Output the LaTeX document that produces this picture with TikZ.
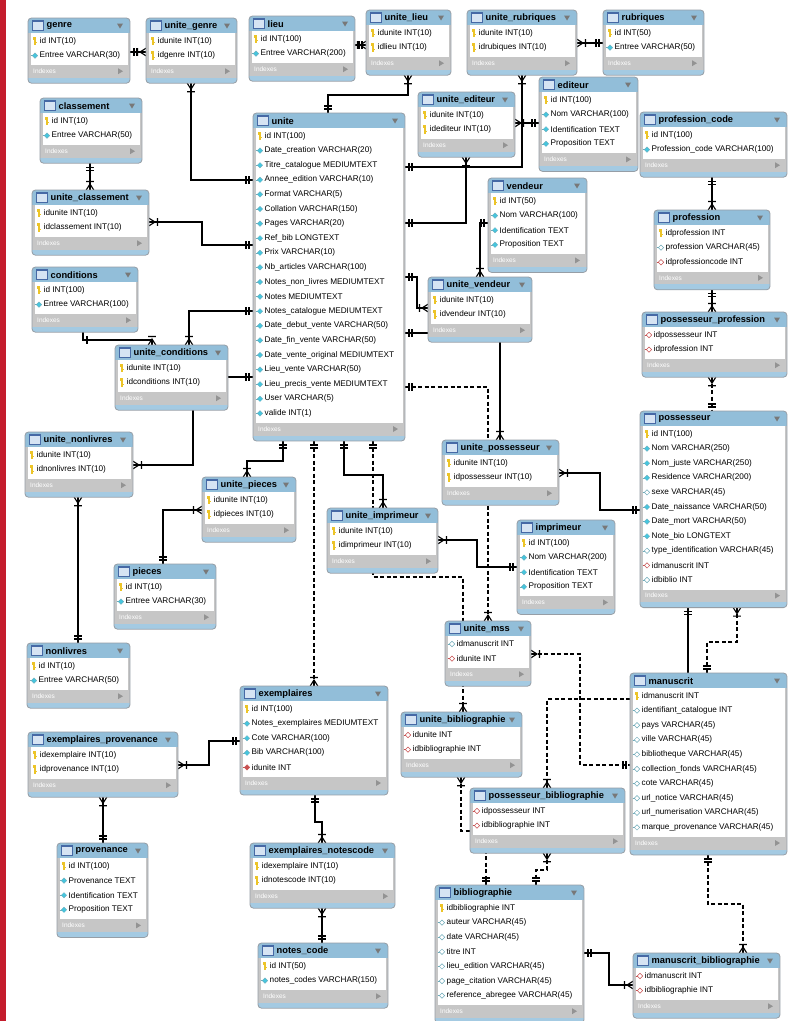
\documentclass[tikz,border=0pt]{standalone}
\usepackage{fontspec}
\setmainfont{Liberation Sans}
\pgfdeclarelayer{bg}
\pgfsetlayers{bg,main}
\definecolor{hdr}{RGB}{146,190,217}
\definecolor{strip}{RGB}{164,202,226}
\definecolor{bodygray}{RGB}{198,198,198}
\definecolor{tborder}{RGB}{150,158,166}
\definecolor{iconfill}{RGB}{214,228,243}
\definecolor{iconedge}{RGB}{70,105,165}
\definecolor{tri}{RGB}{120,120,120}
\definecolor{keyc}{RGB}{236,196,40}
\definecolor{dcyan}{RGB}{70,198,222}
\definecolor{dteal}{RGB}{110,170,185}
\definecolor{dred}{RGB}{200,80,80}
\definecolor{redbar}{RGB}{196,28,44}
\tikzset{
  tablenode/.style={rectangle, inner sep=0pt, outer sep=0pt, draw=none},
  titletxt/.style={anchor=west, inner sep=0pt, font=\fontsize{9.3}{10}\selectfont\bfseries},
  rowtxt/.style={anchor=west, inner sep=0pt, font=\fontsize{8.2}{9}\selectfont},
  idxtxt/.style={anchor=west, inner sep=0pt, text=white, font=\fontsize{6.5}{7}\selectfont},
  rel/.style={line width=1.1pt, black},
  drel/.style={rel, dash pattern=on 4pt off 2.5pt},
  crowone/.pic={\draw[line width=1.1pt] (4,-3.8)--(4,3.8) (7,-3.8)--(7,3.8);},
  crowmany/.pic={\draw[line width=1.1pt] (0,-3.8)--(6,0)--(0,3.8) (0,0)--(6,0) (8.5,-3.8)--(8.5,3.8);}
}
\catcode`\_=12
\newcommand\iconk[2]{\begin{scope}[shift={(#1,#2)}]
 \fill[keyc] (-1.9,-4.3) rectangle (1.3,-1.3);
 \fill[keyc] (-0.8,-1.5) rectangle (0.6,4);
 \fill[keyc] (0.6,1.3) rectangle (1.7,2.4);
 \end{scope}}
\newcommand\iconc[2]{\begin{scope}[shift={(#1,#2)}]
 \draw[dteal, line width=0.4pt] (-4.5,0)--(-2.5,0);
 \filldraw[fill=dcyan, draw=dteal, line width=0.3pt] (0,-2.7)--(2.7,0)--(0,2.7)--(-2.7,0)--cycle;
 \end{scope}}
\newcommand\icono[2]{\begin{scope}[shift={(#1,#2)}]
 \draw[dteal, line width=0.4pt] (-4.5,0)--(-2.5,0);
 \filldraw[fill=white, draw=dteal, line width=0.5pt] (0,-2.7)--(2.7,0)--(0,2.7)--(-2.7,0)--cycle;
 \end{scope}}
\newcommand\iconr[2]{\begin{scope}[shift={(#1,#2)}]
 \draw[dred, line width=0.4pt] (-4.5,0)--(-2.5,0);
 \filldraw[fill=white, draw=dred, line width=0.5pt] (0,-2.7)--(2.7,0)--(0,2.7)--(-2.7,0)--cycle;
 \end{scope}}
\newcommand\iconR[2]{\begin{scope}[shift={(#1,#2)}]
 \draw[dred, line width=0.4pt] (-4.5,0)--(-2.5,0);
 \filldraw[fill=dred, draw=dred, line width=0.3pt] (0,-2.7)--(2.7,0)--(0,2.7)--(-2.7,0)--cycle;
 \end{scope}}
% #1 name, #2 title, #3 x1, #4 y1, #5 x2, #6 number of rows, #7 rows
\newcommand\tbl[7]{%
 \pgfmathsetmacro\tya{#4+15}%
 \pgfmathsetmacro\tyb{#4+18+#6*14.6}%
 \pgfmathsetmacro\tyc{\tyb+12}%
 \pgfmathsetmacro\tyd{\tyc+6}%
 \pgfmathsetmacro\tbw{#5-#3}%
 \pgfmathsetmacro\tbh{\tyd-#4}%
 \node[tablenode, minimum width=\tbw pt, minimum height=\tbh pt, anchor=north west] (#1) at (#3,#4) {};
 \begin{scope}
  \clip[rounded corners=3.5pt] (#3,#4) rectangle (#5,\tyd);
  \fill[bodygray] (#3,#4) rectangle (#5,\tyd);
  \fill[hdr] (#3,#4) rectangle (#5,\tya);
  \fill[strip] (#3,\tyc+0.5) rectangle (#5,\tyd);
 \end{scope}
 \fill[white] (#3+2.5,\tya) rectangle (#5-2.5,\tyb);
 \draw[tborder, line width=0.8pt, rounded corners=3.5pt] (#3,#4) rectangle (#5,\tyd);
 \filldraw[fill=iconfill, draw=iconedge, line width=0.5pt] (#3+4.5,#4+2.5) rectangle (#3+15,#4+12.5);
 \fill[iconedge] (#3+4.5,#4+2.5) rectangle (#3+15,#4+4.3);
 \node[titletxt] at (#3+18.5,#4+7.8) {#2};
 \fill[tri] (#5-13,#4+5.5) -- (#5-7,#4+5.5) -- (#5-10,#4+10.5) -- cycle;
 \node[idxtxt] at (#3+5,\tyb+6) {Indexes};
 \fill[tri!80] (#5-12,\tyb+3) -- (#5-12,\tyb+9) -- (#5-7,\tyb+6) -- cycle;
 \foreach [count=\i] \t/\s in {#7} {
   \pgfmathsetmacro\ry{#4+23+(\i-1)*14.6}
   \csname icon\t\endcsname{#3+7}{\ry}
   \node[rowtxt] at (#3+11.5,\ry) {\s};
 }%
}
\newcommand\mk[3]{\pic[rotate=#2] at (#3) {crow#1};}
\begin{document}
\begin{tikzpicture}[x=1pt,y=-1pt]
\useasboundingbox (0,0) rectangle (802,1021);
\begin{pgfonlayer}{bg}
\fill[white] (0,0) rectangle (802,1021);
\fill[redbar] (0,0) rectangle (6,1021);
\end{pgfonlayer}

% ---------------- tables ----------------
\tbl{genre}{genre}{28}{18}{130}{2}{k/id INT(10), c/Entree VARCHAR(30)}
\tbl{uGenre}{unite_genre}{146}{18}{237}{2}{k/idunite INT(10), k/idgenre INT(10)}
\tbl{lieu}{lieu}{249}{16}{355}{2}{k/id INT(100), c/Entree VARCHAR(200)}
\tbl{uLieu}{unite_lieu}{366}{10}{451}{2}{k/idunite INT(10), k/idlieu INT(10)}
\tbl{uRub}{unite_rubriques}{467}{10}{577}{2}{k/idunite INT(10), k/idrubiques INT(10)}
\tbl{rub}{rubriques}{603}{10}{704}{2}{k/id INT(50), c/Entree VARCHAR(50)}
\tbl{classement}{classement}{40}{98}{142}{2}{k/id INT(10), c/Entree VARCHAR(50)}
\tbl{uClass}{unite_classement}{32}{190}{149}{2}{k/idunite INT(10), k/idclassement INT(10)}
\tbl{cond}{conditions}{32}{267}{138}{2}{k/id INT(100), c/Entree VARCHAR(100)}
\tbl{unite}{unite}{253}{113}{405}{20}{k/id INT(100), c/Date_creation VARCHAR(20), c/Titre_catalogue MEDIUMTEXT, c/Annee_edition VARCHAR(10), c/Format VARCHAR(5), c/Collation VARCHAR(150), c/Pages VARCHAR(20), c/Ref_bib LONGTEXT, c/Prix VARCHAR(10), c/Nb_articles VARCHAR(100), c/Notes_non_livres MEDIUMTEXT, c/Notes MEDIUMTEXT, c/Notes_catalogue MEDIUMTEXT, c/Date_debut_vente VARCHAR(50), c/Date_fin_vente VARCHAR(50), c/Date_vente_original MEDIUMTEXT, c/Lieu_vente VARCHAR(50), c/Lieu_precis_vente MEDIUMTEXT, c/User VARCHAR(5), c/valide INT(1)}
\tbl{uEdit}{unite_editeur}{418}{92}{515}{2}{k/idunite INT(10), k/idediteur INT(10)}
\tbl{editeur}{editeur}{539}{77}{638}{4}{k/id INT(100), c/Nom VARCHAR(100), c/Identification TEXT, c/Proposition TEXT}
\tbl{profcode}{profession_code}{640}{112}{787}{2}{k/id INT(100), c/Profession_code VARCHAR(100)}
\tbl{vendeur}{vendeur}{488}{178}{587}{4}{k/id INT(50), c/Nom VARCHAR(100), c/Identification TEXT, c/Proposition TEXT}
\tbl{profession}{profession}{654}{210}{770}{3}{k/idprofession INT, o/profession VARCHAR(45), r/idprofessioncode INT}
\tbl{uVend}{unite_vendeur}{428}{277}{532}{2}{k/idunite INT(10), k/idvendeur INT(10)}
\tbl{possProf}{possesseur_profession}{642}{312}{787}{2}{r/idpossesseur INT, r/idprofession INT}
\tbl{uCond}{unite_conditions}{115}{345}{228}{2}{k/idunite INT(10), k/idconditions INT(10)}
\tbl{poss}{possesseur}{640}{411}{787}{11}{k/id INT(100), c/Nom VARCHAR(250), c/Nom_juste VARCHAR(250), c/Residence VARCHAR(200), o/sexe VARCHAR(45), c/Date_naissance VARCHAR(50), c/Date_mort VARCHAR(50), c/Note_bio LONGTEXT, o/type_identification VARCHAR(45), r/idmanuscrit INT, o/idbiblio INT}
\tbl{uNonl}{unite_nonlivres}{25}{432}{133}{2}{k/idunite INT(10), k/idnonlivres INT(10)}
\tbl{uPoss}{unite_possesseur}{442}{440}{559}{2}{k/idunite INT(10), k/idpossesseur INT(10)}
\tbl{uPieces}{unite_pieces}{202}{477}{296}{2}{k/idunite INT(10), k/idpieces INT(10)}
\tbl{uImpr}{unite_imprimeur}{327}{508}{438}{2}{k/idunite INT(10), k/idimprimeur INT(10)}
\tbl{imprimeur}{imprimeur}{517}{520}{615}{4}{k/id INT(100), c/Nom VARCHAR(200), c/Identification TEXT, c/Proposition TEXT}
\tbl{pieces}{pieces}{114}{564}{216}{2}{k/id INT(10), c/Entree VARCHAR(30)}
\tbl{uMss}{unite_mss}{445}{621}{531}{2}{o/idmanuscrit INT, r/idunite INT}
\tbl{nonlivres}{nonlivres}{27}{643}{130}{2}{k/id INT(10), c/Entree VARCHAR(50)}
\tbl{manuscrit}{manuscrit}{630}{673}{787}{10}{k/idmanuscrit INT, o/identifiant_catalogue INT, o/pays VARCHAR(45), o/ville VARCHAR(45), o/bibliotheque VARCHAR(45), o/collection_fonds VARCHAR(45), o/cote VARCHAR(45), o/url_notice VARCHAR(45), o/url_numerisation VARCHAR(45), o/marque_provenance VARCHAR(45)}
\tbl{exemplaires}{exemplaires}{240}{686}{388}{5}{k/id INT(100), c/Notes_exemplaires MEDIUMTEXT, c/Cote VARCHAR(100), c/Bib VARCHAR(100), R/idunite INT}
\tbl{uBib}{unite_bibliographie}{401}{712}{522}{2}{r/idunite INT, r/idbibliographie INT}
\tbl{exProv}{exemplaires_provenance}{28}{732}{178}{2}{k/idexemplaire INT(10), k/idprovenance INT(10)}
\tbl{possBib}{possesseur_bibliographie}{470}{788}{625}{2}{r/idpossesseur INT, r/idbibliographie INT}
\tbl{provenance}{provenance}{57}{843}{148}{4}{k/id INT(100), c/Provenance TEXT, c/Identification TEXT, c/Proposition TEXT}
\tbl{exNotes}{exemplaires_notescode}{250}{843}{395}{2}{k/idexemplaire INT(10), k/idnotescode INT(10)}
\tbl{notescode}{notes_code}{258}{943}{388}{2}{k/id INT(50), c/notes_codes VARCHAR(150)}
\tbl{biblio}{bibliographie}{435}{885}{584}{7}{k/idbibliographie INT, o/auteur VARCHAR(45), o/date VARCHAR(45), o/titre INT, o/lieu_edition VARCHAR(45), o/page_citation VARCHAR(45), o/reference_abregee VARCHAR(45)}
\tbl{manBib}{manuscrit_bibliographie}{633}{953}{780}{2}{r/idmanuscrit INT, r/idbibliographie INT}

% ---------------- connectors ----------------
\begin{pgfonlayer}{bg}
% top row
\draw[rel] (genre.east |- 0,52) -- (uGenre.west |- 0,52);
\mk{one}{0}{genre.east |- 0,52} \mk{many}{180}{uGenre.west |- 0,52}
\draw[rel] (lieu.east |- 0,45) -- (uLieu.west |- 0,45);
\mk{one}{0}{lieu.east |- 0,45} \mk{many}{180}{uLieu.west |- 0,45}
\draw[rel] (uRub.east |- 0,43) -- (rub.west |- 0,43);
\mk{many}{0}{uRub.east |- 0,43} \mk{one}{180}{rub.west |- 0,43}
\draw[rel] (uLieu.south -| 408,0) -- (408,95) -- (328,95) -- (unite.north -| 328,0);
\mk{many}{270}{uLieu.south -| 408,0} \mk{one}{90}{unite.north -| 328,0}
% left of unite
\draw[rel] (uGenre.south -| 191,0) |- (unite.west |- 0,180);
\mk{many}{270}{uGenre.south -| 191,0} \mk{one}{180}{unite.west |- 0,180}
\draw[rel] (classement.south -| 90,0) -- (uClass.north -| 90,0);
\mk{one}{270}{classement.south -| 90,0} \mk{many}{90}{uClass.north -| 90,0}
\draw[rel] (uClass.east |- 0,222) -| (202,235) |- (unite.west |- 0,245);
\mk{many}{0}{uClass.east |- 0,222} \mk{one}{180}{unite.west |- 0,245}
\draw[rel] (cond.south -| 83,0) -- (83,340) -- (152,340) -- (uCond.north -| 152,0);
\draw[line width=1.1pt] (87,336.2) -- (87,343.8);
\mk{many}{90}{uCond.north -| 152,0}
\draw[rel] (unite.west |- 0,311) -| (uCond.north -| 189,0);
\mk{one}{180}{unite.west |- 0,311} \mk{many}{90}{uCond.north -| 189,0}
\draw[rel] (unite.west |- 0,377) -| (193,420) |- (uNonl.east |- 0,465);
\mk{one}{180}{unite.west |- 0,377} \mk{many}{0}{uNonl.east |- 0,465}
\draw[rel] (uNonl.south -| 78,0) -- (nonlivres.north -| 78,0);
\mk{many}{270}{uNonl.south -| 78,0} \mk{one}{90}{nonlivres.north -| 78,0}
% below unite
\draw[rel] (unite.south -| 283,0) -- (283,461) -- (247,461) -- (uPieces.north -| 247,0);
\mk{one}{270}{unite.south -| 283,0} \mk{many}{90}{uPieces.north -| 247,0}
\draw[rel] (uPieces.west |- 0,510) -| (pieces.north -| 163,0);
\mk{many}{180}{uPieces.west |- 0,510} \mk{one}{90}{pieces.north -| 163,0}
\draw[drel] (unite.south -| 314,0) -- (exemplaires.north -| 314,0);
\mk{one}{270}{unite.south -| 314,0} \mk{many}{90}{exemplaires.north -| 314,0}
\draw[rel] (unite.south -| 344,0) -- (344,475) -- (383,475) -- (uImpr.north -| 383,0);
\mk{one}{270}{unite.south -| 344,0} \mk{many}{90}{uImpr.north -| 383,0}
\draw[drel] (unite.south -| 373,0) -- (373,577) -- (463,577) -- (uBib.north -| 463,0);
\mk{one}{270}{unite.south -| 373,0} \mk{many}{90}{uBib.north -| 463,0}
\draw[rel] (uImpr.east |- 0,540) -| (477,555) |- (imprimeur.west |- 0,567);
\mk{many}{0}{uImpr.east |- 0,540} \mk{one}{180}{imprimeur.west |- 0,567}
% right of unite
\draw[rel] (unite.east |- 0,167) -| (uRub.south -| 522,0);
\mk{one}{0}{unite.east |- 0,167} \mk{many}{270}{uRub.south -| 522,0}
\draw[rel] (uEdit.east |- 0,123) -- (editeur.west |- 0,123);
\mk{many}{0}{uEdit.east |- 0,123} \mk{one}{180}{editeur.west |- 0,123}
\draw[rel] (unite.east |- 0,223) -| (uEdit.south -| 466,0);
\mk{one}{0}{unite.east |- 0,223} \mk{many}{270}{uEdit.south -| 466,0}
\draw[rel] (vendeur.west |- 0,223) -| (uVend.north -| 480,0);
\mk{one}{180}{vendeur.west |- 0,223} \mk{many}{90}{uVend.north -| 480,0}
\draw[rel] (unite.east |- 0,277) -| (417,290) |- (uVend.west |- 0,308);
\mk{one}{0}{unite.east |- 0,277} \mk{many}{180}{uVend.west |- 0,308}
\draw[rel] (unite.east |- 0,333) -| (uPoss.north -| 500,0);
\mk{one}{0}{unite.east |- 0,333} \mk{many}{90}{uPoss.north -| 500,0}
\draw[drel] (unite.east |- 0,387) -| (uMss.north -| 488,0);
\mk{one}{0}{unite.east |- 0,387} \mk{many}{90}{uMss.north -| 488,0}
% right column
\draw[rel] (profcode.south -| 712,0) -- (profession.north -| 712,0);
\mk{one}{270}{profcode.south -| 712,0} \mk{many}{90}{profession.north -| 712,0}
\draw[rel] (profession.south -| 712,0) -- (possProf.north -| 712,0);
\mk{one}{270}{profession.south -| 712,0} \mk{many}{90}{possProf.north -| 712,0}
\draw[drel] (possProf.south -| 712,0) -- (poss.north -| 712,0);
\mk{many}{270}{possProf.south -| 712,0} \mk{one}{90}{poss.north -| 712,0}
\draw[rel] (uPoss.east |- 0,473) -| (600,490) |- (poss.west |- 0,510);
\mk{many}{0}{uPoss.east |- 0,473} \mk{one}{180}{poss.west |- 0,510}
\draw[rel] (poss.south -| 688,0) -- (manuscrit.north -| 688,0);
\mk{one}{270}{poss.south -| 688,0}
\draw[drel] (poss.south -| 737,0) -- (737,642) -- (707,642) -- (manuscrit.north -| 707,0);
\mk{many}{270}{poss.south -| 737,0} \mk{one}{90}{manuscrit.north -| 707,0}
\draw[drel] (uMss.east |- 0,654) -| (580,700) |- (manuscrit.west |- 0,765);
\mk{many}{0}{uMss.east |- 0,654} \mk{one}{180}{manuscrit.west |- 0,765}
\draw[drel] (manuscrit.west |- 0,699) -| (possBib.north -| 547,0);
\mk{many}{90}{possBib.north -| 547,0}
\draw[drel] (possBib.south -| 547,0) -- (547,870) -- (536,870) -- (biblio.north -| 536,0);
\mk{many}{270}{possBib.south -| 547,0} \mk{one}{90}{biblio.north -| 536,0}
\draw[drel] (uBib.south -| 461,0) -- (461,831) -- (486,831) -- (biblio.north -| 486,0);
\mk{many}{270}{uBib.south -| 461,0} \mk{one}{90}{biblio.north -| 486,0}
\draw[drel] (manuscrit.south -| 708,0) -- (708,904) -- (743,904) -- (manBib.north -| 743,0);
\mk{one}{270}{manuscrit.south -| 708,0} \mk{many}{90}{manBib.north -| 743,0}
\draw[rel] (biblio.east |- 0,953) -| (609,970) |- (manBib.west |- 0,985);
\mk{one}{0}{biblio.east |- 0,953} \mk{many}{180}{manBib.west |- 0,985}
% bottom left
\draw[rel] (exemplaires.west |- 0,741) -| (209,750) |- (exProv.east |- 0,765);
\mk{one}{180}{exemplaires.west |- 0,741} \mk{many}{0}{exProv.east |- 0,765}
\draw[rel] (exProv.south -| 103,0) -- (provenance.north -| 103,0);
\mk{many}{270}{exProv.south -| 103,0} \mk{one}{90}{provenance.north -| 103,0}
\draw[rel] (exemplaires.south -| 315,0) -- (315,822) -- (322,822) -- (exNotes.north -| 322,0);
\mk{one}{270}{exemplaires.south -| 315,0} \mk{many}{90}{exNotes.north -| 322,0}
\draw[rel] (exNotes.south -| 322,0) -- (notescode.north -| 322,0);
\mk{many}{270}{exNotes.south -| 322,0} \mk{one}{90}{notescode.north -| 322,0}
\end{pgfonlayer}
\end{tikzpicture}
\end{document}
